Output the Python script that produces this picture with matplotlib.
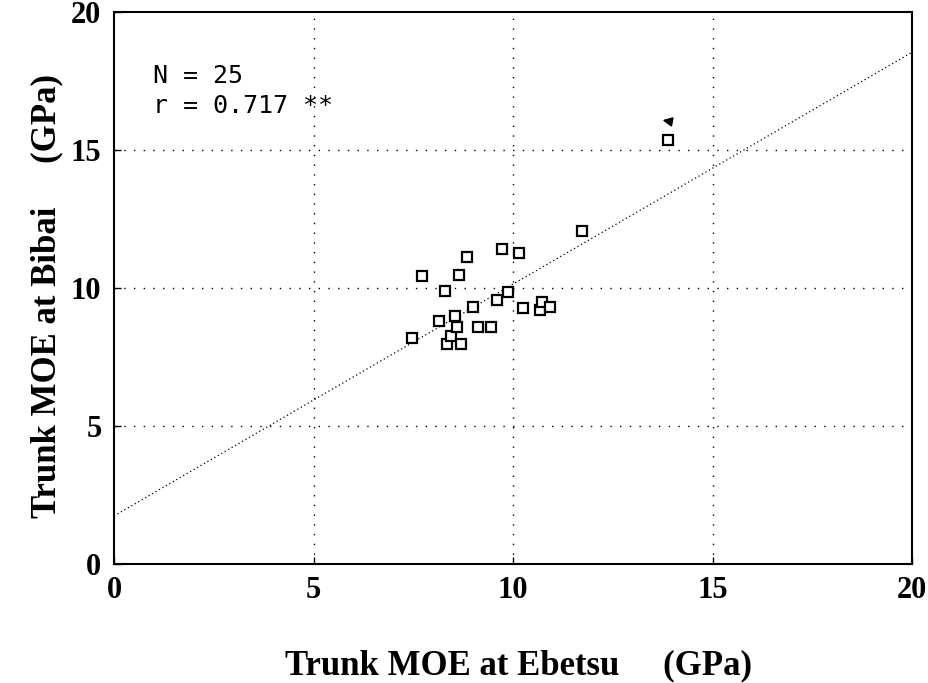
import matplotlib
matplotlib.use("Agg")
import matplotlib.pyplot as plt
import numpy as np

# Data
ebetsu = [7.48, 7.72, 8.15, 8.30, 8.35, 8.45, 8.55, 8.60, 8.65, 8.69,
          8.84, 8.99, 9.13, 9.45, 9.61, 9.72, 9.88, 10.16, 10.24, 10.68,
          10.72, 10.93, 11.73, 13.88]
bibai = [8.18, 10.45, 8.82, 9.90, 7.97, 8.26, 8.99, 8.60, 10.47, 7.97,
         11.13, 9.32, 8.60, 8.60, 9.57, 11.40, 9.84, 11.26, 9.26, 9.20,
         9.50, 9.32, 12.07, 15.36]
fit_intercept = 1.74
fit_slope = 0.84
x_ticks = [0, 5, 10, 15, 20]
y_ticks = [0, 5, 10, 15, 20]
stats_text = "N = 25\nr = 0.717 **"

serif = "Liberation Serif"

fig = plt.figure(figsize=(9.29, 6.83), dpi=100)
ax = fig.add_axes([114/929, 1-564/683, (912-114)/929, (564-12)/683])

ax.set_xlim(0, 20)
ax.set_ylim(0, 20)

# grid at inner ticks
for v in [5, 10, 15]:
    ax.axvline(v, color="black", lw=1.0, ls=(0, (1, 6)), zorder=1)
    ax.axhline(v, color="black", lw=1.0, ls=(0, (1, 6)), zorder=1)

# regression line
xl = np.array([0, 20])
ax.plot(xl, fit_intercept + fit_slope * xl, color="black", lw=0.9,
        ls=(0, (1, 2.2)), zorder=2)

ax.plot(ebetsu, bibai, ls="none", marker="s", ms=7, mfc="white",
        mec="black", mew=1.6, zorder=3)

# small arrow mark next to the outlier
ax.annotate("", xy=(13.68, 16.1), xytext=(14.05, 16.0),
            arrowprops=dict(arrowstyle="-|>", color="black", lw=1.2,
                            mutation_scale=14))

ax.text(0.049, 0.905, stats_text, transform=ax.transAxes,
        family="DejaVu Sans Mono", fontsize=18, va="top", ha="left",
        linespacing=1.3)

for s in ax.spines.values():
    s.set_linewidth(1.5)

ax.set_xticks(x_ticks)
ax.set_yticks(y_ticks)
ax.tick_params(direction="in", length=5, width=1, pad=9)
for lab in ax.get_xticklabels() + ax.get_yticklabels():
    lab.set_fontfamily(serif)
    lab.set_fontweight("bold")
    lab.set_fontsize(22)

ax.set_xlabel("Trunk MOE at Ebetsu     (GPa)", family=serif,
              fontweight="bold", fontsize=25, va="baseline")
ax.xaxis.set_label_coords(0.5075, -0.1993)

ax.set_ylabel("Trunk MOE at Bibai     (GPa)", family=serif,
              fontweight="bold", fontsize=25, va="baseline",
              rotation_mode="anchor")
ax.yaxis.set_label_coords(-0.0739, 0.486)

fig.savefig("out.png", dpi=100)
